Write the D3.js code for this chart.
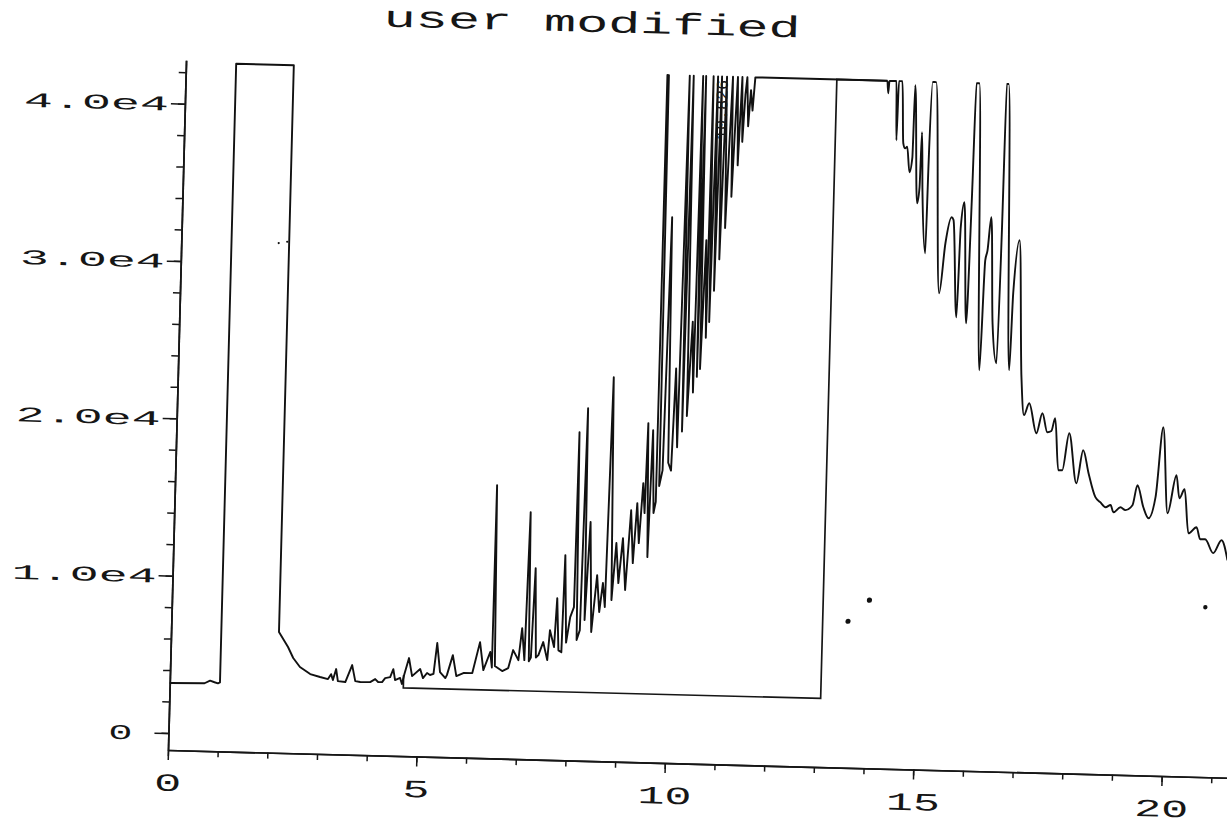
<!DOCTYPE html>
<html lang="en">
<head>
<meta charset="utf-8">
<title>user modified</title>
<style>
  body { margin: 0; background: #fff; }
  svg { display: block; }
  text { font-family: "Liberation Mono", "DejaVu Sans Mono", monospace; fill: #161616; }
</style>
</head>
<body>
<svg width="1227" height="824"></svg>
<script src="https://cdn.jsdelivr.net/npm/d3@7"></script>
<script>
// chart text and ticks
const chartTitle = "user modified";
const xMajorTicks = [0, 5, 10, 15, 20];
const xMinorTicks = [0, 1, 2, 3, 4, 5, 6, 7, 8, 9, 10, 11, 12, 13, 14, 15, 16, 17, 18, 19, 20, 21];
const yMajorTicks = [0, 10000, 20000, 30000, 40000];
const yTickLabels = ["0", "1.0e4", "2.0e4", "3.0e4", "4.0e4"];
const yMinorTicks = [0, 2000, 4000, 6000, 8000, 10000, 12000, 14000, 16000, 18000, 20000,
    22000, 24000, 26000, 28000, 30000, 32000, 34000, 36000, 38000, 40000, 42000];

// detector trace: [time, signal]
const trace = [
    [0.00, 3180], [0.70, 3220], [0.81, 3390], [0.90, 3300], [0.97, 3240], [1.01, 3300],
    [1.01, 42620], [2.17, 42620], [2.17, 6600], [2.36, 5660], [2.47, 4970], [2.61, 4410],
    [2.82, 3980], [3.02, 3810], [3.18, 3690], [3.24, 4010], [3.28, 3640], [3.34, 4340],
    [3.38, 3580], [3.53, 3530], [3.66, 4620], [3.73, 3610], [3.83, 3560], [4.03, 3570],
    [4.13, 3770], [4.19, 3590], [4.27, 3590], [4.33, 3850], [4.43, 3920], [4.49, 4430],
    [4.53, 3740], [4.63, 3880], [4.67, 3500], [4.71, 4070], [4.80, 5160], [4.87, 4020],
    [5.03, 4480], [5.09, 3910], [5.17, 4240], [5.23, 4120], [5.30, 4200], [5.36, 6160],
    [5.43, 4320], [5.54, 3950], [5.57, 4140], [5.68, 5420], [5.76, 4090], [5.90, 4300],
    [6.08, 4310], [6.22, 6290], [6.30, 4520], [6.43, 5680], [6.47, 4700], [6.48, 16290],
    [6.53, 4800], [6.68, 4490], [6.80, 4690], [6.89, 5840], [7.00, 5210], [7.06, 7250],
    [7.12, 5220], [7.17, 14630], [7.21, 5150], [7.25, 5400], [7.30, 11080], [7.35, 5400],
    [7.40, 5560], [7.49, 6400], [7.58, 5260], [7.62, 7170], [7.71, 6100], [7.75, 9210],
    [7.80, 5900], [7.86, 5790], [7.89, 11960], [7.95, 6400], [8.02, 8030], [8.09, 8670],
    [8.11, 19790], [8.16, 6590], [8.22, 7220], [8.27, 21330], [8.31, 7870], [8.38, 14100],
    [8.45, 7120], [8.54, 10740], [8.60, 8400], [8.66, 10250], [8.71, 8730], [8.77, 23340],
    [8.84, 9180], [8.91, 12810], [8.97, 10270], [9.04, 13130], [9.11, 9840], [9.19, 14920],
    [9.25, 11560], [9.31, 15380], [9.36, 12840], [9.42, 16660], [9.46, 14760], [9.49, 20480],
    [9.54, 11970], [9.59, 20040], [9.64, 14780], [9.68, 15500], [9.69, 42620], [9.72, 42620],
    [9.74, 16500], [9.80, 17500], [9.86, 33600], [9.91, 18000], [9.97, 17500], [10.02, 24000],
    [10.08, 19000], [10.14, 42620], [10.17, 20000], [10.22, 42620], [10.26, 21000], [10.33, 27000],
    [10.37, 22500], [10.41, 42620], [10.44, 23500], [10.47, 42620], [10.50, 24000], [10.56, 32200],
    [10.60, 26000], [10.62, 42620], [10.66, 27000], [10.71, 42620], [10.74, 29000], [10.79, 42620],
    [10.83, 31000], [10.89, 42620], [10.93, 33000], [10.97, 38000], [11.01, 42620], [11.04, 35000],
    [11.08, 39500], [11.11, 42620], [11.15, 37000], [11.20, 42620], [11.23, 38500], [11.27, 41500],
    [11.30, 42620], [11.34, 39500], [11.38, 41800], [11.42, 40500], [11.46, 42620],
    [14.12, 42620], [14.14, 41830], [14.16, 42620], [14.30, 42620], [14.33, 38860], [14.35, 42620],
    [14.42, 42620], [14.47, 38680], [14.51, 38360], [14.55, 38470], [14.61, 36850], [14.66, 37800],
    [14.68, 42380], [14.78, 34890], [14.82, 35910], [14.84, 39410], [14.88, 35730], [14.97, 31730],
    [14.99, 37640], [15.03, 42620], [15.10, 42620], [15.27, 29210], [15.37, 32400], [15.48, 34060],
    [15.52, 33900], [15.63, 27720], [15.67, 33440], [15.73, 35030], [15.83, 27350], [15.88, 35620],
    [15.91, 42620], [15.97, 42620], [16.12, 24390], [16.18, 31380], [16.22, 32000], [16.28, 34130],
    [16.36, 27400], [16.46, 24860], [16.50, 33510], [16.52, 42620], [16.56, 42620], [16.72, 24440],
    [16.76, 29340], [16.86, 32710], [16.97, 24010], [17.04, 21610], [17.14, 22380], [17.30, 20480],
    [17.41, 21760], [17.52, 20560], [17.60, 20650], [17.67, 21470], [17.76, 18170], [17.84, 18180],
    [17.96, 20540], [18.13, 17370], [18.25, 19480], [18.37, 18030], [18.52, 16520], [18.62, 16210],
    [18.73, 15900], [18.83, 16050], [18.89, 15590], [19.03, 15920], [19.13, 15750], [19.27, 16070],
    [19.36, 17350], [19.49, 15960], [19.60, 15270], [19.73, 16620], [19.85, 21070], [19.98, 15620],
    [20.14, 18050], [20.21, 16590], [20.31, 17170], [20.41, 14380], [20.57, 14780], [20.65, 14020],
    [20.75, 14030], [20.92, 13160], [21.08, 13990], [21.21, 12730]
];

// integration baseline drawn under the hump
const baseline = [[4.70, 4070], [4.70, 3260], [13.10, 3280], [13.10, 42620], [14.12, 42620]];

// retention time annotation
const peakTimes = [10.826];
const peakTexts = ["10.826"];

// specks on the scanned page
const specks = [[13.61, 8230, 2.6], [14.03, 9600, 2.6], [20.79, 9710, 2.2], [1.96, 31300, 1.1], [2.13, 31400, 1.1]];

const svg = d3.select("svg");

const x = d3.scaleLinear().domain([0, 21.6]).range([168, 168 + 21.6 * 49.7]);
const y = d3.scaleLinear().domain([-1080, 42760]).range([750, 60]);

// the scanned sheet sits slightly crooked
const g = svg.append("g").attr("transform", "rotate(1.5, 168, 750)");

g.append("text")
    .attr("x", 573)
    .attr("y", 21)
    .attr("text-anchor", "middle")
    .attr("font-size", 30)
    .attr("textLength", 417)
    .attr("lengthAdjust", "spacingAndGlyphs")
    .text(chartTitle);

// x axis
g.append("g")
    .attr("transform", "translate(0,750)")
    .call(d3.axisBottom(x).tickValues(xMinorTicks).tickSize(6).tickSizeOuter(0).tickFormat(""));

const xAxis = g.append("g")
    .attr("transform", "translate(0,750)")
    .call(d3.axisBottom(x).tickValues(xMajorTicks).tickSize(10).tickPadding(13)
        .tickSizeOuter(0).tickFormat(d3.format("d")));

xAxis.selectAll("text")
    .attr("font-size", 25)
    .attr("textLength", d => String(d).length * 27)
    .attr("lengthAdjust", "spacingAndGlyphs");

// y axis
g.append("g")
    .attr("transform", "translate(168,0)")
    .call(d3.axisLeft(y).tickValues(yMinorTicks).tickSize(7).tickSizeOuter(0).tickFormat(""));

const yAxis = g.append("g")
    .attr("transform", "translate(168,0)")
    .call(d3.axisLeft(y).tickValues(yMajorTicks).tickSize(14).tickPadding(2)
        .tickSizeOuter(0).tickFormat((d, i) => yTickLabels[i]));

yAxis.selectAll("text")
    .attr("font-size", 21)
    .attr("textLength", (d, i) => yTickLabels[i].length === 1 ? 24 : 145)
    .attr("lengthAdjust", "spacingAndGlyphs")
    .attr("x", d => d === 0 ? -36 : -16);

g.selectAll(".domain").attr("stroke", "#161616").attr("stroke-width", 1.7);
g.selectAll(".tick line").attr("stroke", "#161616").attr("stroke-width", 1.5);

const line = d3.line()
    .x(d => x(d[0]))
    .y(d => y(d[1]));

// the broad tail is drawn smoothly, like the pen did
const smoothLine = d3.line()
    .x(d => x(d[0]))
    .y(d => y(d[1]))
    .curve(d3.curveMonotoneX);

g.append("path")
    .datum(baseline)
    .attr("d", line)
    .attr("fill", "none")
    .attr("stroke", "#161616")
    .attr("stroke-width", 1.7);

g.append("path")
    .datum(trace.filter(d => d[0] <= 14.12))
    .attr("d", line)
    .attr("fill", "none")
    .attr("stroke", "#111")
    .attr("stroke-width", 1.9)
    .attr("stroke-linejoin", "round");

g.append("path")
    .datum(trace.filter(d => d[0] >= 14.12))
    .attr("d", smoothLine)
    .attr("fill", "none")
    .attr("stroke", "#111")
    .attr("stroke-width", 1.9)
    .attr("stroke-linejoin", "round");

g.selectAll(".peak-label")
    .data(peakTimes)
    .join("text")
    .attr("class", "peak-label")
    .attr("transform", d => `translate(${x(d) + 4},${y(40500)}) rotate(-90)`)
    .attr("text-anchor", "middle")
    .attr("font-size", 16)
    .attr("textLength", 60)
    .attr("lengthAdjust", "spacingAndGlyphs")
    .text((d, i) => peakTexts[i]);

g.selectAll(".speck")
    .data(specks)
    .join("circle")
    .attr("class", "speck")
    .attr("cx", d => x(d[0]))
    .attr("cy", d => y(d[1]))
    .attr("r", d => d[2])
    .attr("fill", "#111");
</script>
</body>
</html>
